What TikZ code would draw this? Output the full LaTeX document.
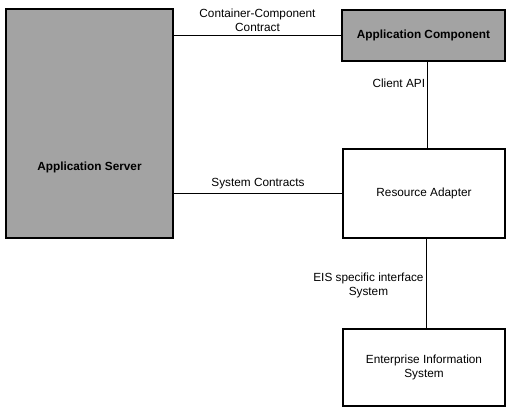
\documentclass[tikz,border=0pt]{standalone}
\usepackage{fontspec}
\setmainfont{Liberation Sans}
\begin{document}
\begin{tikzpicture}[x=1pt,y=-1pt,
  every node/.style={font=\fontsize{11.8}{14}\selectfont},
  box/.style={draw, line width=1.1pt, rectangle, inner sep=0pt, align=center},
  shaded/.style={box, fill=black!36, font=\fontsize{11.8}{14}\selectfont\bfseries},
  conn/.style={line width=0.9pt},
  lbl/.style={align=center, inner sep=2pt}]
\useasboundingbox (0,0) rectangle (506,407);
\node[shaded, minimum width=167, minimum height=229,
  label={[font=\fontsize{11.8}{14}\selectfont\bfseries, yshift=-43.5pt]center:Application Server}] (AS) at (89.5,123.5) {};
\node[shaded, minimum width=163, minimum height=51] (AC) at (423.5,35.5) {Application Component};
\node[box, minimum width=162, minimum height=89] (RA) at (424,193.5) {Resource Adapter};
\node[box, minimum width=162, minimum height=77] (EIS) at (424,367.5) {Enterprise Information\\System};
\draw[conn] (AS.east |- AC.west) -- node[lbl, above, yshift=1pt] {Container-Component\\Contract} (AC.west);
\draw[conn] (AS.east |- RA.west) -- node[lbl, above, yshift=2pt] {System Contracts} (RA.west);
\draw[conn] ([xshift=4pt]AC.south) -- node[lbl, left, pos=0.25] {Client API} ([xshift=4pt]AC.south |- RA.north);
\draw[conn] ([xshift=2pt]RA.south) -- node[lbl, left, pos=0.52] {EIS specific interface\\System} ([xshift=2pt]RA.south |- EIS.north);
\end{tikzpicture}
\end{document}
